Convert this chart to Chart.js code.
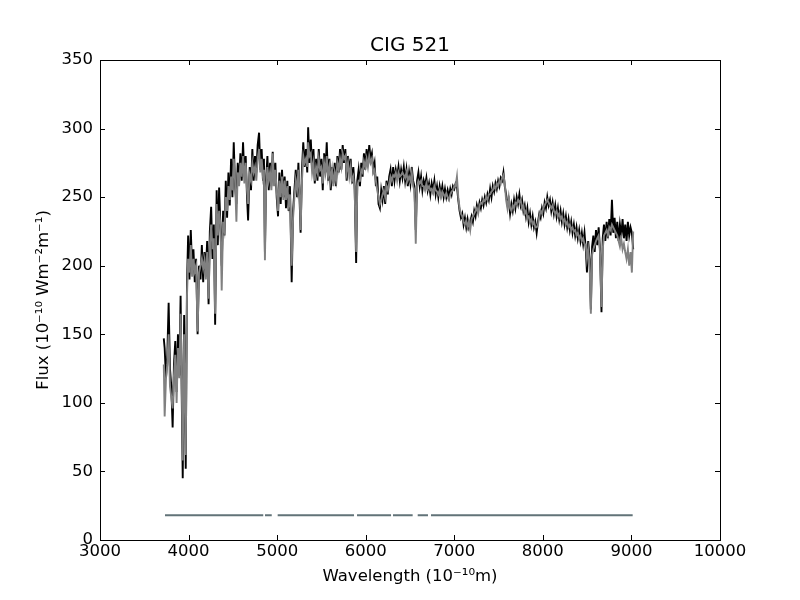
<!DOCTYPE html>
<html>
<head>
<meta charset="utf-8">
<script src="https://cdn.jsdelivr.net/npm/chart.js@4.4.1/dist/chart.umd.min.js"></script>
<style>
html,body{margin:0;padding:0;background:#fff;}
#wrap{width:800px;height:600px;}
</style>
</head>
<body>
<div id="wrap"><canvas id="c" width="800" height="600"></canvas></div>
<script>
// ---- data ----
const chartTitle = 'CIG 521';
const xLabel = 'Wavelength (10\u207B\u00B9\u2070m)';
const yLabel = 'Flux (10\u207B\u00B9\u2070 Wm\u207B\u00B2m\u207B\u00B9)';

const wavelength = [
  3720,3730,3745,3760,3775,3790,3805,3820,3835,3850,
  3865,3880,3895,3910,3922,3934,3950,3968,3982,3995,
  4010,4025,4040,4055,4070,4085,4102,4118,4135,4150,
  4165,4180,4195,4210,4226,4240,4255,4270,4285,4300,
  4317,4330,4345,4360,4374,4390,4405,4420,4435,4450,
  4465,4480,4495,4510,4525,4540,4555,4570,4585,4600,
  4615,4630,4645,4660,4672,4690,4705,4720,4735,4750,
  4765,4780,4796,4810,4825,4840,4851,4862,4875,4890,
  4905,4920,4935,4950,4965,4980,4995,5010,5025,5040,
  5055,5070,5085,5100,5115,5130,5145,5164,5180,5195,
  5210,5225,5240,5255,5265,5280,5295,5310,5325,5340,
  5350,5365,5380,5395,5410,5425,5440,5455,5470,5485,
  5500,5515,5530,5545,5560,5575,5590,5605,5620,5635,
  5650,5665,5680,5695,5710,5725,5740,5755,5770,5785,
  5800,5815,5830,5845,5860,5875,5892,5905,5920,5935,
  5950,5965,5980,5995,6010,6025,6040,6055,6070,6085,
  6100,6115,6130,6145,6160,6175,6190,6205,6220,6235,
  6250,6265,6280,6295,6310,6325,6340,6355,6370,6385,
  6400,6415,6430,6445,6460,6475,6490,6505,6520,6535,
  6550,6565,6580,6595,6610,6625,6640,6655,6670,6685,
  6700,6715,6730,6745,6760,6775,6790,6805,6820,6835,
  6850,6865,6880,6895,6910,6925,6940,6955,6970,6985,
  7000,7015,7030,7045,7060,7075,7090,7105,7120,7135,
  7150,7165,7180,7195,7210,7225,7240,7255,7270,7285,
  7300,7315,7330,7345,7360,7375,7390,7405,7420,7435,
  7450,7465,7480,7495,7510,7525,7540,7555,7570,7585,
  7600,7615,7630,7645,7660,7675,7690,7705,7720,7735,
  7750,7765,7780,7795,7810,7825,7840,7855,7870,7885,
  7900,7915,7930,7945,7960,7975,7990,8005,8020,8035,
  8050,8065,8080,8095,8110,8125,8140,8155,8170,8185,
  8200,8215,8230,8245,8260,8275,8290,8305,8320,8335,
  8350,8365,8380,8395,8410,8425,8440,8455,8470,8485,
  8498,8512,8528,8542,8556,8570,8585,8600,8615,8630,
  8645,8662,8676,8690,8705,8720,8735,8750,8765,8780,
  8795,8810,8825,8840,8855,8870,8885,8900,8915,8930,
  8945,8960,8975,8990,9005,9020
];

// observed spectrum (black)
const fluxObserved = [
  147,140,118,135,173,125,112,82,128,145,
  108,150,120,178,110,45,164,52,186,222,
  190,226,198,212,188,205,150,200,190,215,
  188,210,196,218,172,225,243,205,230,157,
  255,215,257,228,200,240,222,262,235,268,
  244,278,250,290,258,245,275,260,282,262,
  290,265,280,250,233,272,255,285,262,280,
  268,288,297,270,285,262,278,210,262,280,
  255,275,258,283,262,275,250,236,268,245,
  270,250,265,242,262,240,258,188,240,255,
  270,250,275,245,224,270,290,272,285,268,
  301,275,292,270,285,260,278,262,285,265,
  278,255,282,268,290,262,278,255,272,260,
  275,258,280,268,285,270,288,275,285,262,
  280,268,278,260,272,258,202,262,270,258,
  275,265,282,270,285,275,288,278,282,270,
  275,258,265,245,242,255,248,258,245,262,
  252,265,270,258,272,262,270,265,272,262,
  270,264,272,262,270,258,268,260,272,262,
  258,226,262,268,258,265,255,262,258,264,
  255,260,252,260,255,262,252,258,250,258,
  252,258,250,256,250,255,250,256,252,258,
  256,260,258,248,240,235,238,230,235,228,
  234,228,232,236,232,240,236,244,240,246,
  242,248,244,250,246,252,248,256,250,258,
  254,260,256,262,258,264,262,268,258,252,
  245,248,238,245,240,248,242,250,245,252,
  244,248,240,244,236,242,232,238,230,236,
  228,232,224,232,238,235,242,238,246,242,
  250,244,248,240,246,238,244,236,242,234,
  240,232,238,230,236,228,234,226,232,224,
  230,222,228,220,226,218,224,216,224,212,
  195,218,205,168,214,222,210,226,215,228,
  212,166,220,230,218,232,220,234,222,248,
  224,235,220,232,218,230,222,234,220,230,
  218,232,222,228,224,212
];

// model / fitted spectrum (grey)
const fluxModel = [
  128,90,118,128,150,112,104,96,120,135,
  100,140,118,165,120,58,150,62,178,205,
  195,215,192,205,196,200,152,195,200,205,
  198,204,190,210,176,215,230,212,220,165,
  245,222,240,230,182,232,226,250,240,258,
  248,265,255,278,262,232,268,258,275,265,
  280,260,275,255,245,266,262,275,268,272,
  262,278,285,268,278,265,270,204,258,272,
  262,268,255,282,258,270,255,240,262,250,
  265,248,262,248,258,245,252,200,235,250,
  262,255,270,250,226,262,280,275,278,272,
  290,280,282,268,275,262,272,268,278,270,
  272,260,275,268,280,265,272,262,270,258,
  268,262,275,270,278,272,282,278,280,268,
  275,265,272,262,265,255,210,258,262,262,
  270,268,276,272,278,272,280,275,278,268,
  270,262,255,250,245,248,252,255,250,258,
  255,260,265,262,266,265,268,262,268,265,
  266,268,266,264,268,262,265,262,268,258,
  255,216,258,262,260,262,258,258,255,260,
  256,258,255,256,253,258,255,254,252,255,
  250,254,252,250,253,250,248,252,254,255,
  258,258,265,250,242,238,236,232,230,233,
  228,232,226,234,236,238,240,242,238,244,
  246,245,248,247,250,248,252,252,254,255,
  258,256,260,258,262,260,264,266,260,248,
  242,250,242,240,244,242,246,245,248,246,
  248,242,244,238,240,235,236,232,234,230,
  232,228,228,230,236,240,238,242,244,246,
  248,246,244,242,244,240,238,240,236,238,
  234,236,232,234,230,232,228,230,226,228,
  225,226,222,224,220,222,218,220,216,215,
  205,212,200,165,208,212,215,218,220,222,
  210,170,212,222,224,226,222,228,226,230,
  228,226,224,222,218,214,220,212,216,210,
  205,212,200,210,195,225
];

// good-pixel mask segments drawn at a constant level
const maskStart = [3734, 4863, 5006, 5902, 6308, 6587, 6737];
const maskEnd   = [4843, 4939, 5868, 6286, 6530, 6703, 9014];
const maskLevel = 18;

const xTicks = [3000,4000,5000,6000,7000,8000,9000,10000];
const yTicks = [0,50,100,150,200,250,300,350];

// ---- build datasets ----
const obsData = wavelength.map((w,i)=>({x:w, y:fluxObserved[i]}));
const modData = wavelength.map((w,i)=>({x:w, y:fluxModel[i]}));
const maskData = [];
maskStart.forEach((s,i)=>{
  maskData.push({x:s, y:maskLevel});
  maskData.push({x:maskEnd[i], y:maskLevel});
  maskData.push({x:maskEnd[i], y:null});
});

const FONT = 'DejaVu Sans';

const framePlugin = {
  id:'frame',
  afterDatasetsDraw(chart){
    const {ctx, chartArea:{left,right,top,bottom}, scales:{x,y}} = chart;
    ctx.save();
    ctx.strokeStyle = '#000';
    ctx.lineWidth = 1;
    ctx.strokeRect(left+0.5, top+0.5, right-left, bottom-top);
    const len = 5;
    ctx.beginPath();
    xTicks.forEach(v=>{
      const px = Math.round(x.getPixelForValue(v))+0.5;
      ctx.moveTo(px,bottom); ctx.lineTo(px,bottom-len);
      ctx.moveTo(px,top); ctx.lineTo(px,top+len);
    });
    yTicks.forEach(v=>{
      const py = Math.round(y.getPixelForValue(v))+0.5;
      ctx.moveTo(left,py); ctx.lineTo(left+len,py);
      ctx.moveTo(right,py); ctx.lineTo(right-len,py);
    });
    ctx.stroke();
    ctx.restore();
  }
};

new Chart(document.getElementById('c'), {
  type:'line',
  data:{
    datasets:[
      {label:'model', data:modData, borderColor:'#808080', borderWidth:1.9, pointRadius:0, tension:0, fill:false},
      {label:'observed', data:obsData, borderColor:'#000000', borderWidth:1.9, pointRadius:0, tension:0, fill:false},
      {label:'mask', data:maskData, borderColor:'#627378', borderWidth:2, pointRadius:0, tension:0, fill:false, spanGaps:false}
    ]
  },
  options:{
    responsive:false,
    animation:false,
    devicePixelRatio:1,
    parsing:true,
    layout:{padding:{left:0,right:80,top:0,bottom:0}},
    plugins:{
      legend:{display:false},
      tooltip:{enabled:false},
      title:{display:true, text:chartTitle, color:'#000', fullSize:false,
        font:{family:FONT, size:20, weight:'normal'}, padding:{top:34,bottom:2}}
    },
    scales:{
      x:{
        type:'linear', min:3000, max:10000,
        afterBuildTicks(s){ s.ticks = xTicks.map(v=>({value:v})); },
        ticks:{color:'#000', font:{family:FONT, size:16.5}, padding:2, maxRotation:0, autoSkip:false,
          callback:v=>String(v)},
        grid:{display:false, drawTicks:false},
        border:{display:false},
        title:{display:true, text:xLabel, color:'#000', font:{family:FONT, size:16.5}, padding:{top:0,bottom:13}},
        afterFit(s){ s.height = 60; }
      },
      y:{
        type:'linear', min:0, max:350,
        afterBuildTicks(s){ s.ticks = yTicks.map(v=>({value:v})); },
        ticks:{color:'#000', font:{family:FONT, size:16.5}, padding:7, autoSkip:false,
          callback:v=>String(v)},
        grid:{display:false, drawTicks:false},
        border:{display:false},
        title:{display:true, text:yLabel, color:'#000', font:{family:FONT, size:16.5}, padding:{top:34,bottom:0}},
        afterFit(s){ s.width = 100; }
      }
    }
  },
  plugins:[framePlugin]
});
</script>
</body>
</html>
